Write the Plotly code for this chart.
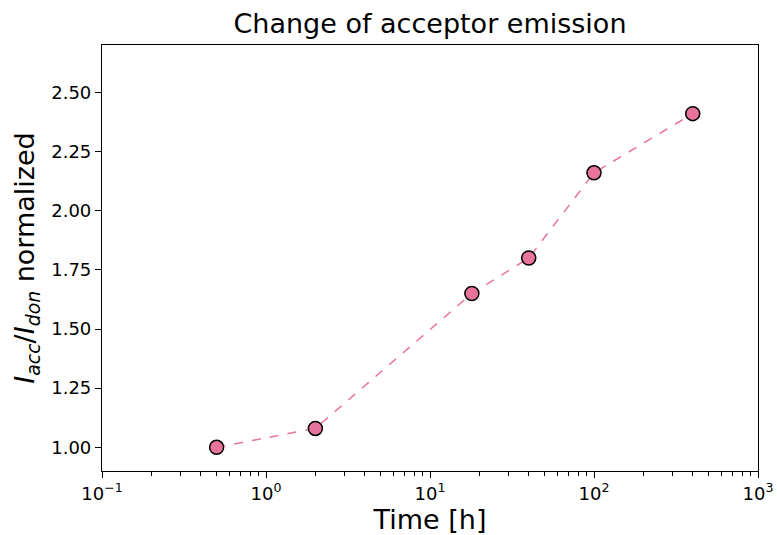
import plotly.graph_objects as go

time_h = [0.5, 2, 18, 40, 100, 400]
ratio = [1.00, 1.08, 1.65, 1.80, 2.16, 2.41]
x_tickvals = [0.1, 1, 10, 100, 1000]
x_ticktext = ["10<sup>\u22121</sup>", "10<sup>0</sup>", "10<sup>1</sup>", "10<sup>2</sup>", "10<sup>3</sup>"]
y_tickvals = [1.00, 1.25, 1.50, 1.75, 2.00, 2.25, 2.50]

color = "#e8749d"
font = "DejaVu Sans"

fig = go.Figure()
fig.add_trace(go.Scatter(
    x=time_h, y=ratio, mode="lines+markers",
    line=dict(color=color, width=1.5, dash="dash"),
    marker=dict(size=14, color=color, line=dict(color="black", width=1.5)),
    showlegend=False,
))

fig.update_layout(
    width=777, height=535,
    margin=dict(l=102, r=19, t=45, b=64, autoexpand=False),
    paper_bgcolor="white", plot_bgcolor="white",
    font=dict(family=font, color="black"),
    title=dict(text="Change of acceptor emission", x=0.5, xref="paper", xanchor="center",
               y=1 - 24 / 535, yref="container", yanchor="middle", font=dict(size=27, family=font)),
    xaxis=dict(
        type="log", range=[-1, 3], automargin=False,
        tickvals=x_tickvals, ticktext=x_ticktext,
        showline=True, linecolor="black", linewidth=1.2, mirror=True,
        ticks="outside", ticklen=6, tickwidth=1.2, tickcolor="black",
        minor=dict(ticks="outside", ticklen=3.5, tickwidth=0.8, tickcolor="black", dtick="D1", showgrid=False),
        showgrid=False, zeroline=False,
        tickfont=dict(size=18),
        title=dict(text="Time [h]", font=dict(size=27), standoff=10),
    ),
    yaxis=dict(
        range=[0.9, 2.7], automargin=False,
        tickvals=y_tickvals, tickformat=".2f",
        showline=True, linecolor="black", linewidth=1.2, mirror=True,
        ticks="outside", ticklen=6, tickwidth=1.2, tickcolor="black",
        showgrid=False, zeroline=False,
        tickfont=dict(size=18),
        title=dict(text="<i>I<sub>acc</sub></i>/<i>I<sub>don</sub></i> normalized", font=dict(size=27), standoff=8),
    ),
)

fig.write_html("out.html")
